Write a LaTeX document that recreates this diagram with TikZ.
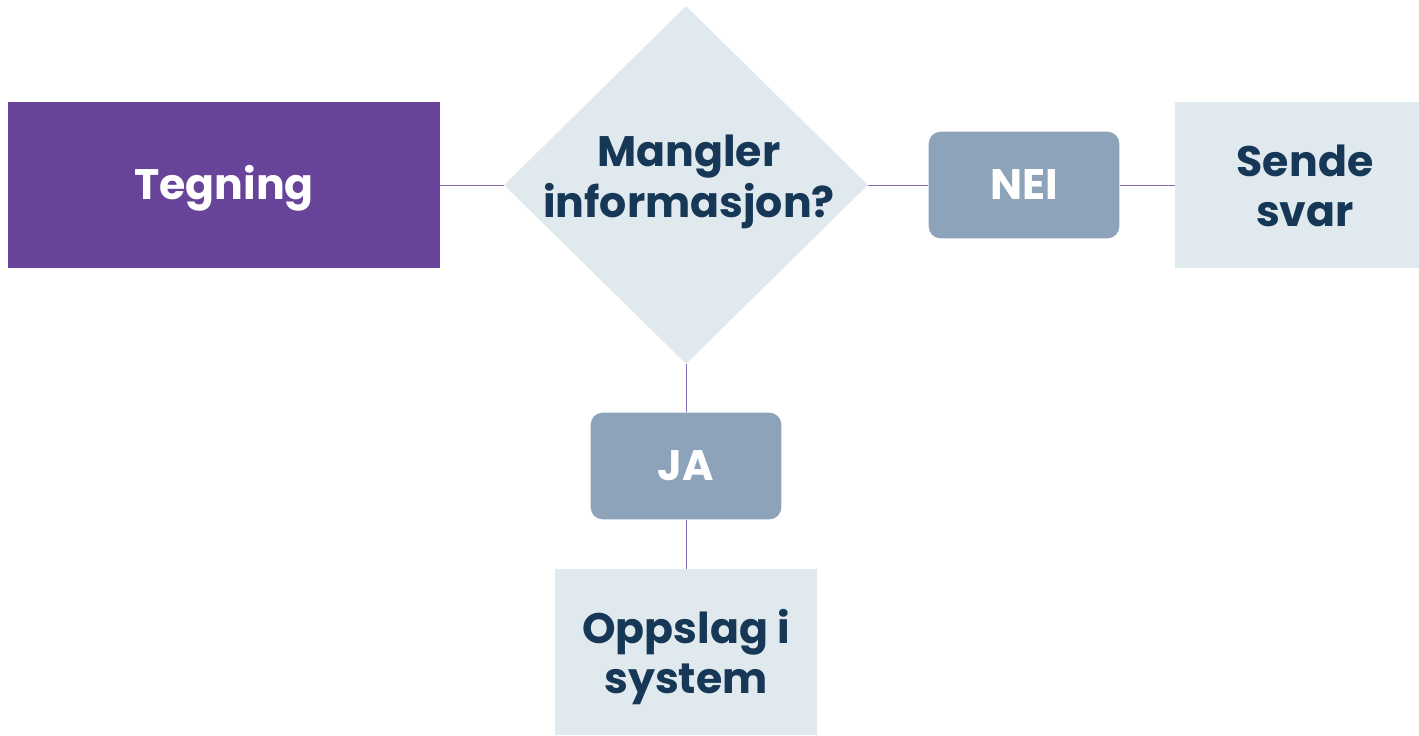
\documentclass[tikz,border=0pt]{standalone}
\usepackage{fontspec}
\setmainfont{Poppins}
\usetikzlibrary{shapes.geometric}
\definecolor{lilla}{HTML}{67449A}
\definecolor{lysgraa}{HTML}{E0E9EE}
\definecolor{blaagraa}{HTML}{8CA3BA}
\definecolor{marine}{HTML}{163756}
\tikzset{
    boks/.style={rectangle, inner sep=0pt, font=\fontsize{32}{38}\selectfont\bfseries, align=center},
    svar/.style={boks, fill=blaagraa, text=white, rounded corners=9pt, minimum width=143pt, minimum height=80pt},
    lys/.style={boks, fill=lysgraa, text=marine},
    linje/.style={draw=lilla!80, line width=0.6pt}
}
\begin{document}
\begin{tikzpicture}[x=0.75pt, y=-0.75pt]
    \useasboundingbox (0,0) rectangle (1419,735);
    % bokser
    \node[boks, fill=lilla, minimum width=324pt, minimum height=125pt] (tegning) at (224,185) {};
    \node[boks, text=white] (tegningtekst) at (224,188) {Tegning};
    \node[diamond, fill=lysgraa, inner sep=0pt, minimum width=273pt, minimum height=268.5pt]
        (sporsmal) at (686,185) {};
    \node[boks, text=marine] (sporsmaltekst) at (689,182) {Mangler\\informasjon?};
    \node[svar] (nei) at (1024,185) {NEI};
    \node[lys, minimum width=183pt, minimum height=125pt] (sende) at (1297,185) {};
    \node[boks, text=marine] (sendetekst) at (1305,186) {Sende\\svar};
    \node[svar] (ja) at (686,466) {JA};
    \node[lys, minimum width=196pt, minimum height=124pt] (oppslag) at (686,652) {};
    \node[boks, text=marine] (oppslagtekst) at (686,657) {Oppslag i\\system};
    % linjer
    \draw[linje] (tegning.east) -- (sporsmal.west);
    \draw[linje] (sporsmal.east) -- (nei.west);
    \draw[linje] (nei.east) -- (sende.west);
    \draw[linje] (sporsmal.south) -- (ja.north);
    \draw[linje] (ja.south) -- (oppslag.north);
\end{tikzpicture}
\end{document}
